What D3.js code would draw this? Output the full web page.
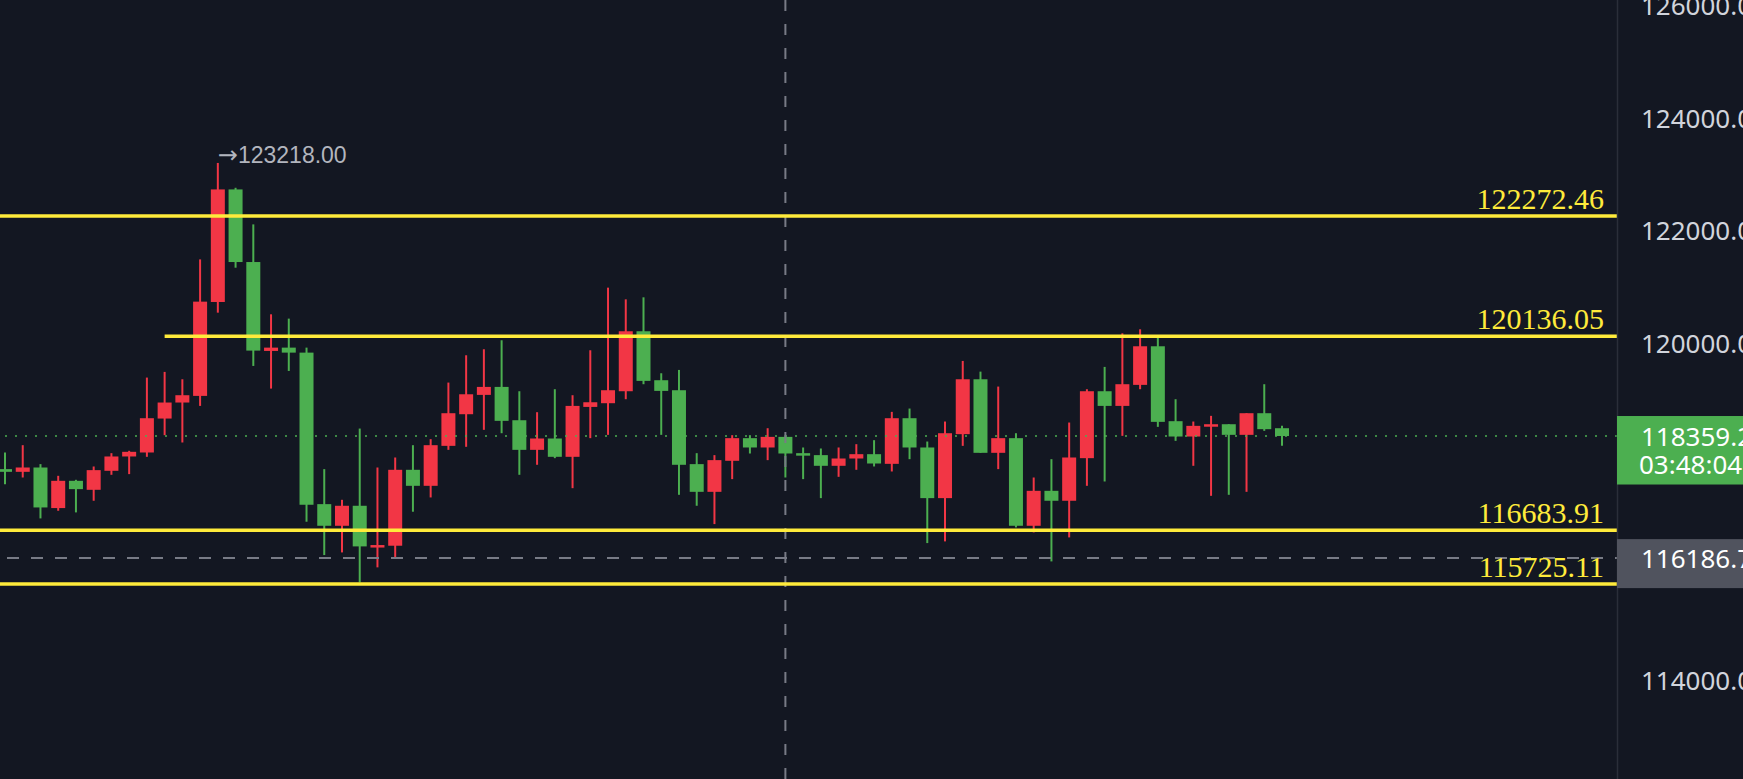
<!DOCTYPE html>
<html><head><meta charset="utf-8">
<script src="https://cdn.jsdelivr.net/npm/d3@7"></script>
<style>html,body{margin:0;padding:0;background:#131722;overflow:hidden}</style>
</head><body><svg id="c" width="1743" height="779"></svg>
<script>
// ---- data ----
const opens  = [117770,117722,117799,117077,117562,117402,117740,117995,118066,118670,118955,119073,120744,122747,121455,119873,119932,119843,117147,116762,117118,116395,116407,117758,117473,118184,118747,119091,119233,118640,118113,118315,117989,118877,118943,119156,120223,119352,119174,117859,117366,117918,118321,118155,118344,118054,118019,117829,117959,118036,117864,118676,118155,117254,118392,119369,118060,118321,116762,117384,117207,117965,119156,118895,119269,119956,118623,118350,118528,118569,118380,118765,118498];
const highs  = [118066,118196,117859,117651,117580,117817,118054,118096,119399,119500,119369,121502,123218,122776,122125,120525,120448,119932,117770,117224,118492,117799,117977,118196,118303,119310,119796,119903,120063,119156,118783,119192,119085,119885,120999,120791,120827,119476,119535,118054,118019,118374,118374,118498,118374,118155,118137,118155,118214,118285,118789,118848,118261,118617,119695,119505,119239,118409,117621,117947,118599,119192,119589,120187,120258,120110,119014,118617,118718,118569,118765,119281,118540];
const lows   = [117503,117621,116893,117029,117000,117207,117669,117681,117989,118374,118244,118895,120554,121354,119606,119203,119517,116834,116241,116288,115755,116022,116182,117012,117266,118113,118167,118469,118409,117669,117847,117965,117431,118321,118380,119014,119281,118380,117313,117118,116792,117592,118048,117930,117621,117592,117254,117633,117758,117817,117728,117947,116454,116484,118184,118060,117770,116733,116644,116128,116555,117473,117550,118362,119192,118522,118273,117829,117295,117313,117366,118451,118184];
const closes = [117722,117799,117088,117562,117414,117752,117995,118078,118676,118955,119085,120750,122747,121455,119879,119932,119843,117136,116762,117118,116395,116419,117758,117473,118196,118765,119102,119233,118629,118113,118315,117989,118895,118960,119174,120223,119340,119162,117847,117366,117930,118321,118155,118344,118048,118019,117829,117959,118036,117870,118676,118155,117254,118409,119369,118060,118321,116762,117384,117207,117977,119156,118895,119281,119956,118611,118350,118540,118569,118380,118765,118481,118359.2];

// visible price-axis tick labels (118000 / 116000 are hidden behind the price tags)
const priceTicks = [126000, 124000, 122000, 120000, 114000];
const levelValues = [122272.46, 120136.05, 116683.91, 115725.11];
const levelStartIndex = [null, 9, null, null];
const lastPrice = 118359.2;
const countdownText = "03:48:04";
const crosshairPrice = 116186.7;
const crosshairIndex = 44;
const maxHighIndex = 12;

// ---- layout ----
const W = 1743, H = 779, axisX = 1617;
const UP = "#f23645", DOWN = "#4caf50";
const AXIS_FONT = "'Noto Sans', 'Open Sans', sans-serif";
const AXIS_SIZE = 26;

const svg = d3.select("#c");
svg.append("rect").attr("width", W).attr("height", H).attr("fill", "#131722");

const x = d3.scaleLinear().domain([0, opens.length - 1]).range([5, 1282]);
const y = d3.scaleLinear().domain([114000, 124000]).range([681, 119]);

svg.append("defs").append("clipPath").attr("id", "plot")
  .append("rect").attr("x", 0).attr("y", 0).attr("width", axisX).attr("height", H);

const plot = svg.append("g").attr("clip-path", "url(#plot)");

const candles = opens.map((o, i) => ({o, h: highs[i], l: lows[i], c: closes[i], i}));
const g = plot.append("g");
g.selectAll("line.wick").data(candles).join("line")
  .attr("class", "wick")
  .attr("x1", d => x(d.i)).attr("x2", d => x(d.i))
  .attr("y1", d => y(d.h)).attr("y2", d => y(d.l))
  .attr("stroke", d => d.c >= d.o ? UP : DOWN)
  .attr("stroke-width", 2);
const bw = 14;
g.selectAll("rect.body").data(candles).join("rect")
  .attr("class", "body")
  .attr("x", d => x(d.i) - bw / 2)
  .attr("width", bw)
  .attr("y", d => y(Math.max(d.o, d.c)))
  .attr("height", d => Math.max(2.5, Math.abs(y(d.o) - y(d.c))))
  .attr("fill", d => d.c >= d.o ? UP : DOWN);

// current price dotted line
plot.append("line")
  .attr("x1", 5).attr("x2", axisX)
  .attr("y1", y(lastPrice)).attr("y2", y(lastPrice))
  .attr("stroke", "#4caf50").attr("stroke-opacity", 0.75)
  .attr("stroke-width", 2).attr("stroke-dasharray", "2,8");

// crosshair
plot.append("line")
  .attr("x1", x(crosshairIndex)).attr("x2", x(crosshairIndex))
  .attr("y1", 0).attr("y2", H)
  .attr("stroke", "#787b86").attr("stroke-width", 2).attr("stroke-dasharray", "11,13");
plot.append("line")
  .attr("x1", 7).attr("x2", axisX)
  .attr("y1", y(crosshairPrice)).attr("y2", y(crosshairPrice))
  .attr("stroke", "#787b86").attr("stroke-width", 2).attr("stroke-dasharray", "12,12");

// levels
levelValues.forEach((v, k) => {
  const x0 = levelStartIndex[k] == null ? 0 : x(levelStartIndex[k]);
  plot.append("line")
    .attr("x1", x0).attr("x2", axisX)
    .attr("y1", y(v)).attr("y2", y(v))
    .attr("stroke", "#ffeb3b").attr("stroke-width", 3.5);
  plot.append("text")
    .attr("x", 1604).attr("y", y(v) - 7)
    .attr("text-anchor", "end")
    .attr("font-family", "'Liberation Serif', serif")
    .attr("font-size", 30)
    .attr("fill", "#ffeb3b")
    .text(d3.format(".2f")(v));
});

// max high annotation
const hiText = plot.append("text")
  .attr("x", x(maxHighIndex)).attr("y", y(highs[maxHighIndex]))
  .attr("font-family", "'Liberation Sans', Arial, sans-serif")
  .attr("font-size", 23)
  .attr("fill", "#b2b5be");
hiText.append("tspan").attr("font-family", "'DejaVu Sans', sans-serif").attr("font-size", 24).text("\u2192");
hiText.append("tspan").text(d3.format(".2f")(highs[maxHighIndex]));

// price axis
svg.append("line").attr("x1", axisX + 0.5).attr("x2", axisX + 0.5).attr("y1", 0).attr("y2", H)
  .attr("stroke", "#2a2e39").attr("stroke-width", 1.5);
const axis = d3.axisRight(y).tickValues(priceTicks).tickFormat(d3.format(".2f")).tickSize(0).tickPadding(24);
const ag = svg.append("g").attr("transform", `translate(${axisX},0)`).call(axis);
ag.select(".domain").remove();
ag.selectAll("text")
  .attr("font-family", AXIS_FONT)
  .attr("font-size", AXIS_SIZE)
  .attr("fill", "#d1d4dc");

// last price box
const yl = y(lastPrice);
svg.append("rect").attr("x", axisX).attr("y", yl - 20).attr("width", W - axisX).attr("height", 68.5).attr("fill", "#4caf50");
svg.append("text").attr("x", 1641).attr("y", yl).attr("dominant-baseline", "central")
  .attr("font-family", AXIS_FONT).attr("font-size", AXIS_SIZE).attr("fill", "#ffffff")
  .text(d3.format(".2f")(lastPrice));
svg.append("text").attr("x", 1639).attr("y", yl + 28).attr("dominant-baseline", "central")
  .attr("font-family", AXIS_FONT).attr("font-size", AXIS_SIZE).attr("fill", "#ffffff")
  .text(countdownText);

// crosshair price box
const yc = y(crosshairPrice);
svg.append("rect").attr("x", axisX).attr("y", yc - 19).attr("width", W - axisX).attr("height", 49).attr("fill", "#50535e");
svg.append("text").attr("x", 1641).attr("y", yc).attr("dominant-baseline", "central")
  .attr("font-family", AXIS_FONT).attr("font-size", AXIS_SIZE).attr("fill", "#ffffff")
  .text(d3.format(".2f")(crosshairPrice));
</script></body></html>
